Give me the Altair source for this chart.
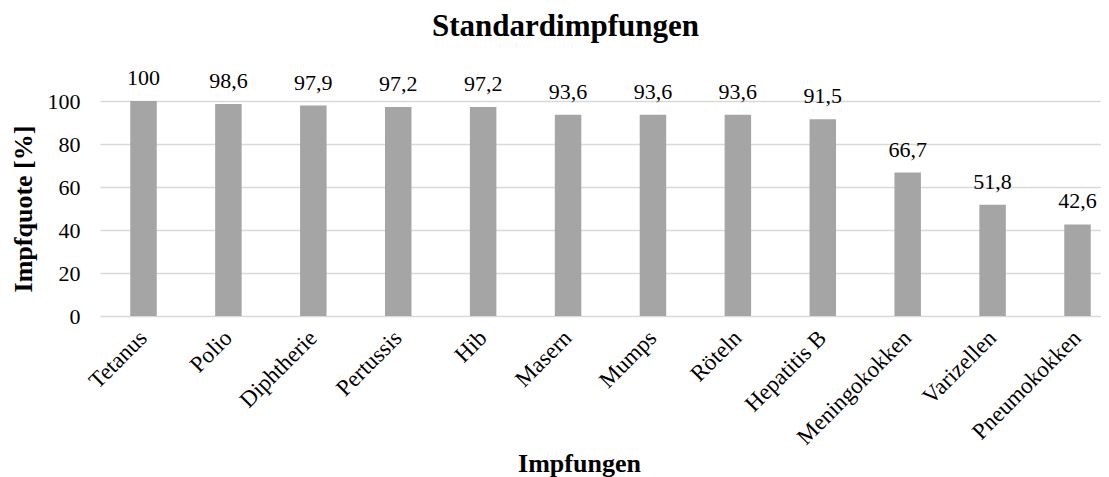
import altair as alt
import pandas as pd

categories = ["Tetanus", "Polio", "Diphtherie", "Pertussis", "Hib", "Masern",
              "Mumps", "Röteln", "Hepatitis B", "Meningokokken", "Varizellen",
              "Pneumokokken"]
values = [100, 98.6, 97.9, 97.2, 97.2, 93.6, 93.6, 93.6, 91.5, 66.7, 51.8, 42.6]
y_ticks = [0, 20, 40, 60, 80, 100]
labels = [("%g" % v).replace(".", ",") for v in values]

df = pd.DataFrame({"Impfung": categories, "Quote": values, "Label": labels})

FONT = "Liberation Serif"
W, H = 1001, 215

x = alt.X(
    "Impfung:N", sort=categories,
    scale=alt.Scale(paddingInner=0.688, paddingOuter=0.2385, align=0.747),
    axis=alt.Axis(
        title="Impfungen", labelAngle=-45, labelAlign="right", labelBaseline="middle",
        labelFont=FONT, labelFontSize=23, labelColor="black", labelPadding=18,
        ticks=False, domain=False,
        titleFont=FONT, titleFontSize=26, titleFontWeight="bold", titleColor="black",
        titleX=479, titleY=155, titleBaseline="alphabetic", titleAlign="center",
    ),
)
y = alt.Y(
    "Quote:Q",
    scale=alt.Scale(domain=[0, 100], nice=False),
    axis=alt.Axis(
        title="Impfquote [%]", values=y_ticks, grid=True, gridColor="#d9d9d9",
        gridWidth=1.5, domain=False, ticks=False, labelPadding=20,
        labelFont=FONT, labelFontSize=22, labelColor="black",
        titleFont=FONT, titleFontSize=26, titleFontWeight="bold", titleColor="black",
        titleX=-69, titleY=107.5, titleBaseline="alphabetic", titleAlign="center",
        titleAngle=-90,
    ),
)

bars = alt.Chart(df).mark_bar(color="#a5a5a5").encode(x=x, y=y)
text = alt.Chart(df).mark_text(
    dy=-16, baseline="alphabetic", font=FONT, fontSize=22, color="black"
).encode(x=alt.X("Impfung:N", sort=categories), y="Quote:Q", text="Label:N")

chart = (bars + text).properties(
    width=W, height=H,
    title=alt.TitleParams(
        "Standardimpfungen", font=FONT, fontSize=31, fontWeight="bold",
        color="black", anchor="middle", frame="group", dx=-35, dy=-20,
    ),
    autosize=alt.AutoSizeParams(type="none"),
    padding={"left": 92, "top": 93, "right": 0, "bottom": 161},
).configure_view(stroke=None)

chart.save("out.html", embed_options={"renderer": "svg", "actions": False})
